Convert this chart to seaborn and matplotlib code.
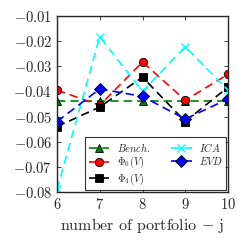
import matplotlib
matplotlib.use("Agg")
import matplotlib.pyplot as plt
import seaborn as sns
import pandas as pd

portfolios = [6, 7, 8, 9, 10]
bench = [-0.044, -0.044, -0.044, -0.044, -0.044]
phi6 = [-0.0395, -0.0455, -0.0283, -0.0435, -0.0332]
phi4 = [-0.054, -0.0462, -0.0343, -0.052, -0.0383]
ica = [-0.079, -0.0183, -0.040, -0.0222, -0.0395]
evd = [-0.052, -0.039, -0.042, -0.051, -0.043]

labels = [r"$Bench.$", r"$\Phi_6(V)$", r"$\Phi_4(V)$", r"$ICA$", r"$EVD$"]
series = [bench, phi6, phi4, ica, evd]
colors = ["green", "red", "black", "cyan", "blue"]
markers = ["^", "o", "s", "x", "D"]

sns.set_style("ticks")
plt.rcParams["font.family"] = ["cmr10", "DejaVu Serif"]
plt.rcParams["mathtext.fontset"] = "cm"
plt.rcParams["axes.formatter.use_mathtext"] = True
plt.rcParams["axes.unicode_minus"] = True

fig = plt.figure(figsize=(2.47, 2.47), dpi=100)
ax = fig.add_axes([0.231, 0.223, 0.692, 0.712])

for lab, vals, c, m in zip(labels, series, colors, markers):
    df = pd.DataFrame({"x": portfolios, "y": vals})
    sns.lineplot(data=df, x="x", y="y", ax=ax, color=c, marker=m,
                 markersize=6, linestyle=(0, (5, 3)), linewidth=1.2,
                 markeredgecolor="black" if m != "x" else c,
                 markeredgewidth=0.6 if m != "x" else 1.0,
                 label=lab)

ax.set_xlim(6, 10)
ax.set_ylim(-0.08, -0.01)
ax.set_xticks([6, 7, 8, 9, 10])
ax.set_yticks([-0.08, -0.07, -0.06, -0.05, -0.04, -0.03, -0.02, -0.01])
ax.tick_params(direction="in", top=True, right=True, labelsize=10.5, length=3, width=0.6)
ax.set_xlabel(r"number of portfolio $-$ j", fontsize=11.5, labelpad=3)
ax.set_ylabel("")
for s in ax.spines.values():
    s.set_linewidth(1.0)

leg = ax.legend(loc="lower right", ncol=2, fontsize=7.5, frameon=True,
                fancybox=False, edgecolor="black", handlelength=2.0,
                borderpad=0.3, labelspacing=0.15, columnspacing=2.0,
                handletextpad=0.7, borderaxespad=0.15)
leg.get_frame().set_linewidth(0.8)

fig.savefig("out.png", dpi=100)
